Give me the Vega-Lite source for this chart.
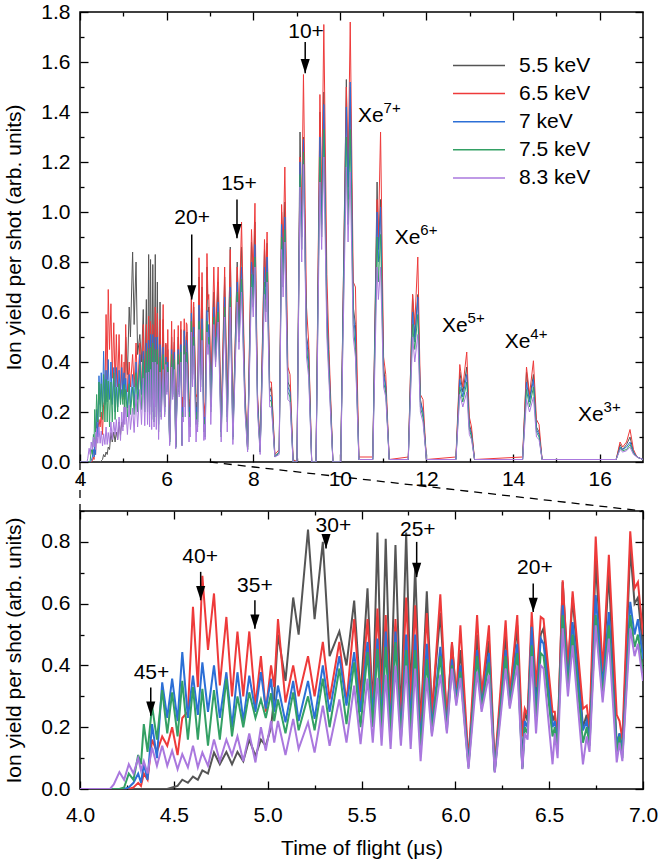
{
"$schema":"https://vega.github.io/schema/vega-lite/v6.json",
"padding":{"left":3,"top":0,"right":5,"bottom":2},
"bounds":"flush",
"spacing":49,
"config":{"font":"Liberation Sans","view":{"stroke":"black","strokeWidth":1.5},
"axis":{"grid":false,"domain":false,"labelFont":"Liberation Sans","labelFontSize":21,"labelColor":"black","titleFont":"Liberation Sans","titleFontSize":21,"titleFontWeight":"normal","titleColor":"black","tickColor":"black","tickWidth":1.3,"labelFlush":false,"labelOverlap":false},
"text":{"font":"Liberation Sans","fontSize":21,"color":"black"}},
"datasets":{
"spec":[
{"t":4.0,"g":0,"r":0,"b":0,"n":0,"p":0},
{"t":4.16,"g":0,"r":0,"b":0,"n":0,"p":0},
{"t":4.18,"g":0,"r":0,"b":0,"n":0,"p":0.015},
{"t":4.21,"g":0,"r":0,"b":0,"n":0,"p":0.055},
{"t":4.235,"g":0,"r":0,"b":0,"n":0.005,"p":0.03},
{"t":4.26,"g":0,"r":0,"b":0.005,"n":0.05,"p":0.08},
{"t":4.285,"g":0,"r":0.005,"b":0.02,"n":0.03,"p":0.05},
{"t":4.31,"g":0,"r":0.02,"b":0.05,"n":0.11,"p":0.10},
{"t":4.325,"g":0,"r":0.01,"b":0.02,"n":0.08,"p":0.06},
{"t":4.34,"g":0,"r":0.05,"b":0.08,"n":0.21,"p":0.09},
{"t":4.36,"g":0,"r":0.03,"b":0.03,"n":0.12,"p":0.05},
{"t":4.384,"g":0,"r":0.16,"b":0.21,"n":0.27,"p":0.134},
{"t":4.41,"g":0,"r":0.12,"b":0.10,"n":0.16,"p":0.075},
{"t":4.438,"g":0,"r":0.17,"b":0.345,"n":0.32,"p":0.14},
{"t":4.465,"g":0,"r":0.14,"b":0.23,"n":0.18,"p":0.075},
{"t":4.491,"g":0.005,"r":0.20,"b":0.357,"n":0.313,"p":0.124},
{"t":4.52,"g":0.01,"r":0.11,"b":0.22,"n":0.17,"p":0.064},
{"t":4.545,"g":0.03,"r":0.23,"b":0.443,"n":0.35,"p":0.113},
{"t":4.575,"g":0.02,"r":0.25,"b":0.23,"n":0.16,"p":0.07},
{"t":4.602,"g":0.04,"r":0.59,"b":0.367,"n":0.33,"p":0.14},
{"t":4.628,"g":0.03,"r":0.33,"b":0.24,"n":0.16,"p":0.07},
{"t":4.652,"g":0.06,"r":0.69,"b":0.41,"n":0.324,"p":0.118},
{"t":4.682,"g":0.05,"r":0.45,"b":0.25,"n":0.14,"p":0.075},
{"t":4.714,"g":0.118,"r":0.633,"b":0.40,"n":0.32,"p":0.16},
{"t":4.745,"g":0.08,"r":0.335,"b":0.23,"n":0.16,"p":0.09},
{"t":4.78,"g":0.12,"r":0.557,"b":0.378,"n":0.357,"p":0.16},
{"t":4.81,"g":0.08,"r":0.30,"b":0.20,"n":0.17,"p":0.11},
{"t":4.839,"g":0.12,"r":0.51,"b":0.378,"n":0.30,"p":0.17},
{"t":4.87,"g":0.09,"r":0.30,"b":0.22,"n":0.20,"p":0.09},
{"t":4.902,"g":0.16,"r":0.51,"b":0.367,"n":0.313,"p":0.18},
{"t":4.935,"g":0.107,"r":0.27,"b":0.25,"n":0.23,"p":0.086},
{"t":4.964,"g":0.16,"r":0.43,"b":0.378,"n":0.29,"p":0.20},
{"t":4.99,"g":0.14,"r":0.25,"b":0.26,"n":0.23,"p":0.124},
{"t":5.018,"g":0.20,"r":0.40,"b":0.357,"n":0.31,"p":0.22},
{"t":5.035,"g":0.30,"r":0.33,"b":0.25,"n":0.22,"p":0.15},
{"t":5.055,"g":0.50,"r":0.55,"b":0.335,"n":0.29,"p":0.22},
{"t":5.095,"g":0.35,"r":0.28,"b":0.216,"n":0.18,"p":0.11},
{"t":5.136,"g":0.62,"r":0.40,"b":0.35,"n":0.313,"p":0.227},
{"t":5.165,"g":0.50,"r":0.30,"b":0.22,"n":0.19,"p":0.13},
{"t":5.215,"g":0.84,"r":0.43,"b":0.35,"n":0.30,"p":0.216},
{"t":5.25,"g":0.55,"r":0.30,"b":0.227,"n":0.19,"p":0.118},
{"t":5.294,"g":0.80,"r":0.476,"b":0.40,"n":0.357,"p":0.27},
{"t":5.33,"g":0.43,"r":0.29,"b":0.25,"n":0.20,"p":0.14},
{"t":5.382,"g":0.51,"r":0.476,"b":0.43,"n":0.39,"p":0.29},
{"t":5.42,"g":0.40,"r":0.28,"b":0.27,"n":0.21,"p":0.15},
{"t":5.461,"g":0.61,"r":0.55,"b":0.443,"n":0.41,"p":0.335},
{"t":5.495,"g":0.30,"r":0.27,"b":0.25,"n":0.20,"p":0.145},
{"t":5.532,"g":0.65,"r":0.55,"b":0.476,"n":0.443,"p":0.357},
{"t":5.56,"g":0.25,"r":0.26,"b":0.24,"n":0.20,"p":0.15},
{"t":5.585,"g":0.83,"r":0.584,"b":0.487,"n":0.454,"p":0.36},
{"t":5.607,"g":0.29,"r":0.28,"b":0.22,"n":0.19,"p":0.14},
{"t":5.629,"g":0.81,"r":0.563,"b":0.51,"n":0.46,"p":0.37},
{"t":5.655,"g":0.27,"r":0.25,"b":0.20,"n":0.17,"p":0.13},
{"t":5.681,"g":0.79,"r":0.55,"b":0.51,"n":0.476,"p":0.40},
{"t":5.71,"g":0.22,"r":0.22,"b":0.18,"n":0.16,"p":0.14},
{"t":5.738,"g":0.83,"r":0.62,"b":0.50,"n":0.45,"p":0.40},
{"t":5.762,"g":0.30,"r":0.28,"b":0.22,"n":0.18,"p":0.13},
{"t":5.786,"g":0.72,"r":0.595,"b":0.50,"n":0.45,"p":0.39},
{"t":5.815,"g":0.20,"r":0.20,"b":0.15,"n":0.12,"p":0.09},
{"t":5.848,"g":0.64,"r":0.57,"b":0.47,"n":0.42,"p":0.36},
{"t":5.875,"g":0.25,"r":0.24,"b":0.20,"n":0.18,"p":0.17},
{"t":5.92,"g":0.57,"r":0.63,"b":0.46,"n":0.43,"p":0.37},
{"t":5.955,"g":0.22,"r":0.22,"b":0.20,"n":0.19,"p":0.18},
{"t":5.982,"g":0.47,"r":0.476,"b":0.42,"n":0.40,"p":0.39},
{"t":6.005,"g":0.30,"r":0.30,"b":0.29,"n":0.28,"p":0.27},
{"t":6.027,"g":0.45,"r":0.53,"b":0.40,"n":0.38,"p":0.36},
{"t":6.07,"g":0.08,"r":0.09,"b":0.08,"n":0.07,"p":0.065},
{"t":6.116,"g":0.50,"r":0.563,"b":0.45,"n":0.43,"p":0.38},
{"t":6.14,"g":0.30,"r":0.30,"b":0.27,"n":0.26,"p":0.25},
{"t":6.179,"g":0.48,"r":0.53,"b":0.44,"n":0.41,"p":0.37},
{"t":6.21,"g":0.06,"r":0.07,"b":0.06,"n":0.055,"p":0.053},
{"t":6.268,"g":0.50,"r":0.546,"b":0.45,"n":0.43,"p":0.39},
{"t":6.29,"g":0.30,"r":0.30,"b":0.28,"n":0.27,"p":0.26},
{"t":6.33,"g":0.53,"r":0.563,"b":0.47,"n":0.44,"p":0.40},
{"t":6.357,"g":0.07,"r":0.17,"b":0.07,"n":0.065,"p":0.064},
{"t":6.37,"g":0.25,"r":0.26,"b":0.22,"n":0.20,"p":0.18},
{"t":6.385,"g":0.22,"r":0.24,"b":0.20,"n":0.18,"p":0.16},
{"t":6.407,"g":0.53,"r":0.573,"b":0.525,"n":0.465,"p":0.43},
{"t":6.43,"g":0.30,"r":0.33,"b":0.25,"n":0.22,"p":0.18},
{"t":6.455,"g":0.50,"r":0.557,"b":0.487,"n":0.44,"p":0.40},
{"t":6.47,"g":0.52,"r":0.55,"b":0.47,"n":0.43,"p":0.39},
{"t":6.518,"g":0.22,"r":0.25,"b":0.20,"n":0.17,"p":0.08},
{"t":6.53,"g":0.24,"r":0.25,"b":0.22,"n":0.20,"p":0.18},
{"t":6.545,"g":0.15,"r":0.16,"b":0.15,"n":0.14,"p":0.10},
{"t":6.572,"g":0.67,"r":0.676,"b":0.595,"n":0.563,"p":0.52},
{"t":6.60,"g":0.38,"r":0.39,"b":0.35,"n":0.33,"p":0.30},
{"t":6.625,"g":0.62,"r":0.64,"b":0.54,"n":0.50,"p":0.465},
{"t":6.68,"g":0.20,"r":0.26,"b":0.19,"n":0.15,"p":0.08},
{"t":6.70,"g":0.24,"r":0.27,"b":0.22,"n":0.20,"p":0.17},
{"t":6.715,"g":0.16,"r":0.20,"b":0.15,"n":0.14,"p":0.12},
{"t":6.748,"g":0.74,"r":0.817,"b":0.628,"n":0.563,"p":0.53},
{"t":6.785,"g":0.35,"r":0.38,"b":0.33,"n":0.30,"p":0.28},
{"t":6.818,"g":0.70,"r":0.758,"b":0.573,"n":0.53,"p":0.487},
{"t":6.86,"g":0.14,"r":0.24,"b":0.14,"n":0.12,"p":0.086},
{"t":6.875,"g":0.18,"r":0.22,"b":0.18,"n":0.17,"p":0.15},
{"t":6.89,"g":0.12,"r":0.16,"b":0.12,"n":0.10,"p":0.09},
{"t":6.932,"g":0.78,"r":0.834,"b":0.606,"n":0.563,"p":0.52},
{"t":6.955,"g":0.60,"r":0.65,"b":0.50,"n":0.46,"p":0.43},
{"t":6.973,"g":0.62,"r":0.67,"b":0.55,"n":0.50,"p":0.47},
{"t":7.0,"g":0.45,"r":0.50,"b":0.42,"n":0.38,"p":0.35},
{"t":7.02,"g":0.25,"r":0.28,"b":0.22,"n":0.20,"p":0.15},
{"t":7.09,"g":0.68,"r":0.78,"b":0.62,"n":0.58,"p":0.55},
{"t":7.13,"g":0.45,"r":0.50,"b":0.42,"n":0.40,"p":0.38},
{"t":7.19,"g":0.72,"r":0.78,"b":0.64,"n":0.60,"p":0.56},
{"t":7.26,"g":0.12,"r":0.15,"b":0.12,"n":0.10,"p":0.08},
{"t":7.34,"g":0.74,"r":0.78,"b":0.66,"n":0.62,"p":0.58},
{"t":7.40,"g":0.20,"r":0.22,"b":0.18,"n":0.16,"p":0.12},
{"t":7.47,"g":0.86,"r":0.85,"b":0.70,"n":0.66,"p":0.62},
{"t":7.53,"g":0.10,"r":0.12,"b":0.10,"n":0.09,"p":0.07},
{"t":7.63,"g":0.80,"r":0.78,"b":0.72,"n":0.68,"p":0.64},
{"t":7.67,"g":0.55,"r":0.55,"b":0.50,"n":0.48,"p":0.45},
{"t":7.73,"g":0.86,"r":0.96,"b":0.78,"n":0.73,"p":0.68},
{"t":7.81,"g":0.25,"r":0.28,"b":0.24,"n":0.22,"p":0.20},
{"t":7.87,"g":0.05,"r":0.06,"b":0.05,"n":0.05,"p":0.04},
{"t":7.96,"g":0.88,"r":0.93,"b":0.80,"n":0.75,"p":0.70},
{"t":8.00,"g":0.70,"r":0.75,"b":0.65,"n":0.62,"p":0.58},
{"t":8.04,"g":0.96,"r":1.035,"b":0.87,"n":0.82,"p":0.78},
{"t":8.10,"g":0.25,"r":0.27,"b":0.24,"n":0.22,"p":0.20},
{"t":8.16,"g":0.04,"r":0.05,"b":0.04,"n":0.04,"p":0.03},
{"t":8.26,"g":0.85,"r":0.89,"b":0.78,"n":0.72,"p":0.67},
{"t":8.29,"g":0.70,"r":0.72,"b":0.65,"n":0.60,"p":0.56},
{"t":8.32,"g":0.875,"r":0.92,"b":0.82,"n":0.76,"p":0.72},
{"t":8.38,"g":0.28,"r":0.32,"b":0.27,"n":0.25,"p":0.22},
{"t":8.42,"g":0.30,"r":0.32,"b":0.26,"n":0.24,"p":0.22},
{"t":8.50,"g":0.02,"r":0.03,"b":0.02,"n":0.02,"p":0.02},
{"t":8.60,"g":0.04,"r":0.05,"b":0.04,"n":0.04,"p":0.03},
{"t":8.655,"g":1.0,"r":1.03,"b":0.95,"n":0.90,"p":0.85},
{"t":8.69,"g":0.80,"r":0.85,"b":0.75,"n":0.70,"p":0.66},
{"t":8.73,"g":1.04,"r":1.18,"b":0.98,"n":0.93,"p":0.88},
{"t":8.80,"g":0.32,"r":0.38,"b":0.30,"n":0.28,"p":0.25},
{"t":8.85,"g":0.30,"r":0.35,"b":0.28,"n":0.26,"p":0.24},
{"t":8.92,"g":0.01,"r":0.01,"b":0,"n":0,"p":0},
{"t":9.01,"g":0,"r":0,"b":0,"n":0,"p":0},
{"t":9.08,"g":1.32,"r":1.22,"b":1.20,"n":1.15,"p":1.10},
{"t":9.12,"g":0.95,"r":1.0,"b":0.90,"n":0.85,"p":0.80},
{"t":9.16,"g":1.30,"r":1.55,"b":1.29,"n":1.24,"p":1.19},
{"t":9.23,"g":0.50,"r":0.62,"b":0.50,"n":0.46,"p":0.42},
{"t":9.28,"g":0.45,"r":0.48,"b":0.40,"n":0.37,"p":0.34},
{"t":9.35,"g":0,"r":0,"b":0,"n":0,"p":0},
{"t":9.45,"g":0,"r":0,"b":0,"n":0,"p":0},
{"t":9.54,"g":1.40,"r":1.47,"b":1.30,"n":1.22,"p":1.12},
{"t":9.58,"g":1.0,"r":1.05,"b":0.95,"n":0.90,"p":0.85},
{"t":9.63,"g":1.48,"r":1.75,"b":1.43,"n":1.33,"p":1.22},
{"t":9.70,"g":0.60,"r":0.75,"b":0.60,"n":0.55,"p":0.50},
{"t":9.75,"g":0.40,"r":0.45,"b":0.38,"n":0.35,"p":0.32},
{"t":9.84,"g":0,"r":0,"b":0,"n":0,"p":0},
{"t":10.02,"g":0,"r":0,"b":0,"n":0,"p":0},
{"t":10.15,"g":1.53,"r":1.50,"b":1.42,"n":1.30,"p":1.18},
{"t":10.19,"g":1.10,"r":1.15,"b":1.05,"n":0.95,"p":0.88},
{"t":10.24,"g":1.50,"r":1.76,"b":1.52,"n":1.33,"p":1.16},
{"t":10.31,"g":0.62,"r":0.72,"b":0.60,"n":0.55,"p":0.50},
{"t":10.36,"g":0.55,"r":0.70,"b":0.50,"n":0.45,"p":0.42},
{"t":10.44,"g":0.01,"r":0.02,"b":0.01,"n":0.01,"p":0.01},
{"t":10.76,"g":0.01,"r":0.02,"b":0.01,"n":0.01,"p":0.01},
{"t":10.86,"g":1.12,"r":1.05,"b":1.0,"n":0.90,"p":0.78},
{"t":10.89,"g":0.85,"r":0.90,"b":0.80,"n":0.72,"p":0.65},
{"t":10.94,"g":1.05,"r":1.32,"b":1.02,"n":0.91,"p":0.78},
{"t":11.01,"g":0.38,"r":0.42,"b":0.35,"n":0.32,"p":0.30},
{"t":11.06,"g":0.30,"r":0.35,"b":0.30,"n":0.28,"p":0.26},
{"t":11.14,"g":0.01,"r":0.01,"b":0.01,"n":0.01,"p":0.01},
{"t":11.58,"g":0.01,"r":0.02,"b":0.01,"n":0.01,"p":0.01},
{"t":11.68,"g":0.67,"r":0.67,"b":0.60,"n":0.55,"p":0.50},
{"t":11.73,"g":0.50,"r":0.55,"b":0.48,"n":0.45,"p":0.40},
{"t":11.80,"g":0.67,"r":0.82,"b":0.66,"n":0.59,"p":0.51},
{"t":11.86,"g":0.25,"r":0.27,"b":0.24,"n":0.22,"p":0.20},
{"t":11.92,"g":0.20,"r":0.25,"b":0.20,"n":0.18,"p":0.16},
{"t":12.00,"g":0.01,"r":0.01,"b":0.01,"n":0.01,"p":0.01},
{"t":12.68,"g":0.01,"r":0.02,"b":0.01,"n":0.01,"p":0.01},
{"t":12.77,"g":0.36,"r":0.39,"b":0.33,"n":0.30,"p":0.27},
{"t":12.84,"g":0.28,"r":0.30,"b":0.26,"n":0.24,"p":0.22},
{"t":12.93,"g":0.38,"r":0.44,"b":0.35,"n":0.32,"p":0.28},
{"t":12.99,"g":0.15,"r":0.18,"b":0.14,"n":0.13,"p":0.11},
{"t":13.04,"g":0.12,"r":0.14,"b":0.11,"n":0.10,"p":0.09},
{"t":13.11,"g":0.01,"r":0.01,"b":0.01,"n":0.01,"p":0.01},
{"t":14.22,"g":0.01,"r":0.02,"b":0.01,"n":0.01,"p":0.01},
{"t":14.31,"g":0.36,"r":0.38,"b":0.32,"n":0.29,"p":0.25},
{"t":14.38,"g":0.25,"r":0.27,"b":0.24,"n":0.22,"p":0.20},
{"t":14.47,"g":0.35,"r":0.405,"b":0.33,"n":0.30,"p":0.26},
{"t":14.54,"g":0.14,"r":0.17,"b":0.13,"n":0.12,"p":0.10},
{"t":14.60,"g":0.12,"r":0.15,"b":0.11,"n":0.10,"p":0.09},
{"t":14.67,"g":0.01,"r":0.01,"b":0.01,"n":0.01,"p":0.01},
{"t":16.38,"g":0.01,"r":0.01,"b":0.01,"n":0.01,"p":0.01},
{"t":16.47,"g":0.07,"r":0.08,"b":0.06,"n":0.055,"p":0.05},
{"t":16.53,"g":0.05,"r":0.06,"b":0.05,"n":0.045,"p":0.04},
{"t":16.62,"g":0.07,"r":0.08,"b":0.06,"n":0.05,"p":0.045},
{"t":16.70,"g":0.10,"r":0.13,"b":0.08,"n":0.07,"p":0.06},
{"t":16.78,"g":0.04,"r":0.05,"b":0.04,"n":0.035,"p":0.03},
{"t":16.86,"g":0.02,"r":0.02,"b":0.02,"n":0.02,"p":0.02},
{"t":17.0,"g":0.01,"r":0.01,"b":0.01,"n":0.01,"p":0.01}
],
"annTop":[
{"lab":"10+","tx":9.22,"ty":1.72,"ax":9.2,"a0":1.68,"a1":1.555},
{"lab":"15+","tx":7.67,"ty":1.113,"ax":7.625,"a0":1.05,"a1":0.895},
{"lab":"20+","tx":6.59,"ty":0.978,"ax":6.58,"a0":0.91,"a1":0.65}
],
"annBot":[
{"lab":"45+","tx":4.381,"ty":0.377,"ax":4.377,"a0":0.329,"a1":0.237},
{"lab":"40+","tx":4.64,"ty":0.75,"ax":4.643,"a0":0.703,"a1":0.611},
{"lab":"35+","tx":4.932,"ty":0.656,"ax":4.932,"a0":0.611,"a1":0.519},
{"lab":"30+","tx":5.35,"ty":0.852,"ax":5.311,"a0":0.79,"a1":0.779},
{"lab":"25+","tx":5.80,"ty":0.838,"ax":5.794,"a0":0.80,"a1":0.686},
{"lab":"20+","tx":6.424,"ty":0.716,"ax":6.415,"a0":0.665,"a1":0.573}
],
"xe":[
{"t":10.42,"v":1.385,"sup":"7+"},
{"t":11.27,"v":0.898,"sup":"6+"},
{"t":12.36,"v":0.543,"sup":"5+"},
{"t":13.81,"v":0.479,"sup":"4+"},
{"t":15.5,"v":0.19,"sup":"3+"}
],
"conn":[
{"x":4,"y":1.0586,"x2":4,"y2":0.9},
{"x":4.692,"y":1.0586,"x2":7,"y2":0.9}
]
},
"resolve":{"scale":{"color":"independent"}},
"vconcat":[
{
"width":563,"height":450,
"resolve":{"axis":{"x":"independent","y":"independent"}},
"layer":[
{"data":{"name":"spec"},
"transform":[{"fold":["g","r","b","n","p"],"as":["E","v"]}],
"mark":{"type":"line","strokeWidth":1,"clip":true},
"encoding":{
"x":{"field":"t","type":"quantitative","scale":{"domain":[4,17]},
"axis":{"orient":"bottom","title":null,"values":[4,5,6,7,8,9,10,11,12,13,14,15,16],"labelExpr":"datum.value % 2 === 0 ? datum.label : ''","tickSize":{"condition":{"test":"datum.value % 2 === 0","value":-8},"value":-4},"labelPadding":14}},
"y":{"field":"v","type":"quantitative","scale":{"domain":[0,1.8]},
"axis":{"orient":"left","title":"Ion yield per shot (arb. units)","titlePadding":16,"values":[0,0.1,0.2,0.3,0.4,0.5,0.6,0.7,0.8,0.9,1,1.1,1.2,1.3,1.4,1.5,1.6,1.7,1.8],"labelExpr":"round(datum.value*10) % 2 === 0 ? format(datum.value, '.1f') : ''","tickSize":{"condition":{"test":"round(datum.value*10) % 2 === 0","value":-8},"value":-4},"labelPadding":18}},
"color":{"field":"E","type":"nominal","scale":{"domain":["g","r","b","n","p"],"range":["#555555","#ee3a3a","#2c6fd6","#33a064","#aa78de"]},
"legend":{"orient":"none","legendX":388.5,"legendY":43,"title":null,"symbolType":"M-4,0H4","symbolSize":169,"symbolStrokeWidth":1.5,"labelFontSize":21,"labelFont":"Liberation Sans","labelColor":"black","labelOffset":29.5,"rowPadding":6.1,"padding":0,"labelExpr":"datum.label == 'g' ? '5.5 keV' : datum.label == 'r' ? '6.5 keV' : datum.label == 'b' ? '7 keV' : datum.label == 'n' ? '7.5 keV' : '8.3 keV'"}}
}},
{"data":{"name":"annTop"},
"mark":{"type":"rule","strokeWidth":1.5,"color":"black"},
"encoding":{
"x":{"field":"ax","type":"quantitative","scale":{"domain":[4,17]},
"axis":{"orient":"top","title":null,"labels":false,"values":[4,5,6,7,8,9,10,11,12,13,14,15,16],"tickSize":{"condition":{"test":"datum.value % 2 === 0","value":-8},"value":-4}}},
"y":{"field":"a0","type":"quantitative","scale":{"domain":[0,1.8]},
"axis":{"orient":"right","title":null,"labels":false,"values":[0,0.1,0.2,0.3,0.4,0.5,0.6,0.7,0.8,0.9,1,1.1,1.2,1.3,1.4,1.5,1.6,1.7,1.8],"tickSize":{"condition":{"test":"round(datum.value*10) % 2 === 0","value":-8},"value":-4}}},
"y2":{"field":"a1"}}},
{"data":{"name":"annTop"},
"mark":{"type":"point","shape":"M-0.7,-2.2L0.7,-2.2L0,0Z","filled":true,"color":"black","size":169,"opacity":1,"strokeWidth":0},
"encoding":{
"x":{"field":"ax","type":"quantitative","scale":{"domain":[4,17]},"axis":null},
"y":{"field":"a1","type":"quantitative","scale":{"domain":[0,1.8]},"axis":null}}},
{"data":{"name":"annTop"},
"mark":{"type":"text","align":"center","baseline":"middle"},
"encoding":{
"x":{"field":"tx","type":"quantitative","scale":{"domain":[4,17]},"axis":null},
"y":{"field":"ty","type":"quantitative","scale":{"domain":[0,1.8]},"axis":null},
"text":{"field":"lab"}}},
{"data":{"name":"xe"},
"mark":{"type":"text","align":"left","baseline":"middle"},
"encoding":{
"x":{"field":"t","type":"quantitative","scale":{"domain":[4,17]},"axis":null},
"y":{"field":"v","type":"quantitative","scale":{"domain":[0,1.8]},"axis":null},
"text":{"value":"Xe"}}},
{"data":{"name":"xe"},
"mark":{"type":"text","align":"left","baseline":"middle","fontSize":15,"dx":25.5,"dy":-8},
"encoding":{
"x":{"field":"t","type":"quantitative","scale":{"domain":[4,17]},"axis":null},
"y":{"field":"v","type":"quantitative","scale":{"domain":[0,1.8]},"axis":null},
"text":{"field":"sup"}}}
]
},
{
"width":563,"height":278,
"resolve":{"axis":{"x":"independent","y":"independent"}},
"layer":[
{"data":{"name":"spec"},
"transform":[{"filter":"datum.t <= 7.0"},{"fold":["g","r","b","n","p"],"as":["E","v"]}],
"mark":{"type":"line","strokeWidth":2,"clip":true},
"encoding":{
"x":{"field":"t","type":"quantitative","scale":{"domain":[4,7]},
"axis":{"orient":"bottom","title":"Time of flight (μs)","titlePadding":8,"values":[4,4.25,4.5,4.75,5,5.25,5.5,5.75,6,6.25,6.5,6.75,7],"labelExpr":"(datum.value*2) % 1 === 0 ? format(datum.value, '.1f') : ''","tickSize":{"condition":{"test":"(datum.value*2) % 1 === 0","value":-8},"value":-4},"labelPadding":23}},
"y":{"field":"v","type":"quantitative","scale":{"domain":[0,0.9]},
"axis":{"orient":"left","title":"Ion yield per shot (arb. units)","titlePadding":16,"values":[0,0.1,0.2,0.3,0.4,0.5,0.6,0.7,0.8,0.9],"labelExpr":"round(datum.value*10) % 2 === 0 ? format(datum.value, '.1f') : ''","tickSize":{"condition":{"test":"round(datum.value*10) % 2 === 0","value":-8},"value":-4},"labelPadding":18}},
"color":{"field":"E","type":"nominal","scale":{"domain":["g","r","b","n","p"],"range":["#555555","#ee3a3a","#2c6fd6","#33a064","#aa78de"]},"legend":null}
}},
{"data":{"name":"annBot"},
"mark":{"type":"rule","strokeWidth":1.5,"color":"black"},
"encoding":{
"x":{"field":"ax","type":"quantitative","scale":{"domain":[4,7]},
"axis":{"orient":"top","title":null,"labels":false,"values":[4,4.25,4.5,4.75,5,5.25,5.5,5.75,6,6.25,6.5,6.75,7],"tickSize":{"condition":{"test":"(datum.value*2) % 1 === 0","value":-8},"value":-4}}},
"y":{"field":"a0","type":"quantitative","scale":{"domain":[0,0.9]},
"axis":{"orient":"right","title":null,"labels":false,"values":[0,0.1,0.2,0.3,0.4,0.5,0.6,0.7,0.8,0.9],"tickSize":{"condition":{"test":"round(datum.value*10) % 2 === 0","value":-8},"value":-4}}},
"y2":{"field":"a1"}}},
{"data":{"name":"annBot"},
"mark":{"type":"point","shape":"M-0.7,-2.2L0.7,-2.2L0,0Z","filled":true,"color":"black","size":169,"opacity":1,"strokeWidth":0},
"encoding":{
"x":{"field":"ax","type":"quantitative","scale":{"domain":[4,7]},"axis":null},
"y":{"field":"a1","type":"quantitative","scale":{"domain":[0,0.9]},"axis":null}}},
{"data":{"name":"annBot"},
"mark":{"type":"text","align":"center","baseline":"middle"},
"encoding":{
"x":{"field":"tx","type":"quantitative","scale":{"domain":[4,7]},"axis":null},
"y":{"field":"ty","type":"quantitative","scale":{"domain":[0,0.9]},"axis":null},
"text":{"field":"lab"}}},
{"data":{"name":"conn"},
"mark":{"type":"rule","strokeWidth":1.3,"color":"black","strokeDash":[8,6],"clip":false},
"encoding":{
"x":{"field":"x","type":"quantitative","scale":{"domain":[4,7]},"axis":null},
"y":{"field":"y","type":"quantitative","scale":{"domain":[0,0.9]},"axis":null},
"x2":{"field":"x2"},
"y2":{"field":"y2"}}}
]
}
]
}
